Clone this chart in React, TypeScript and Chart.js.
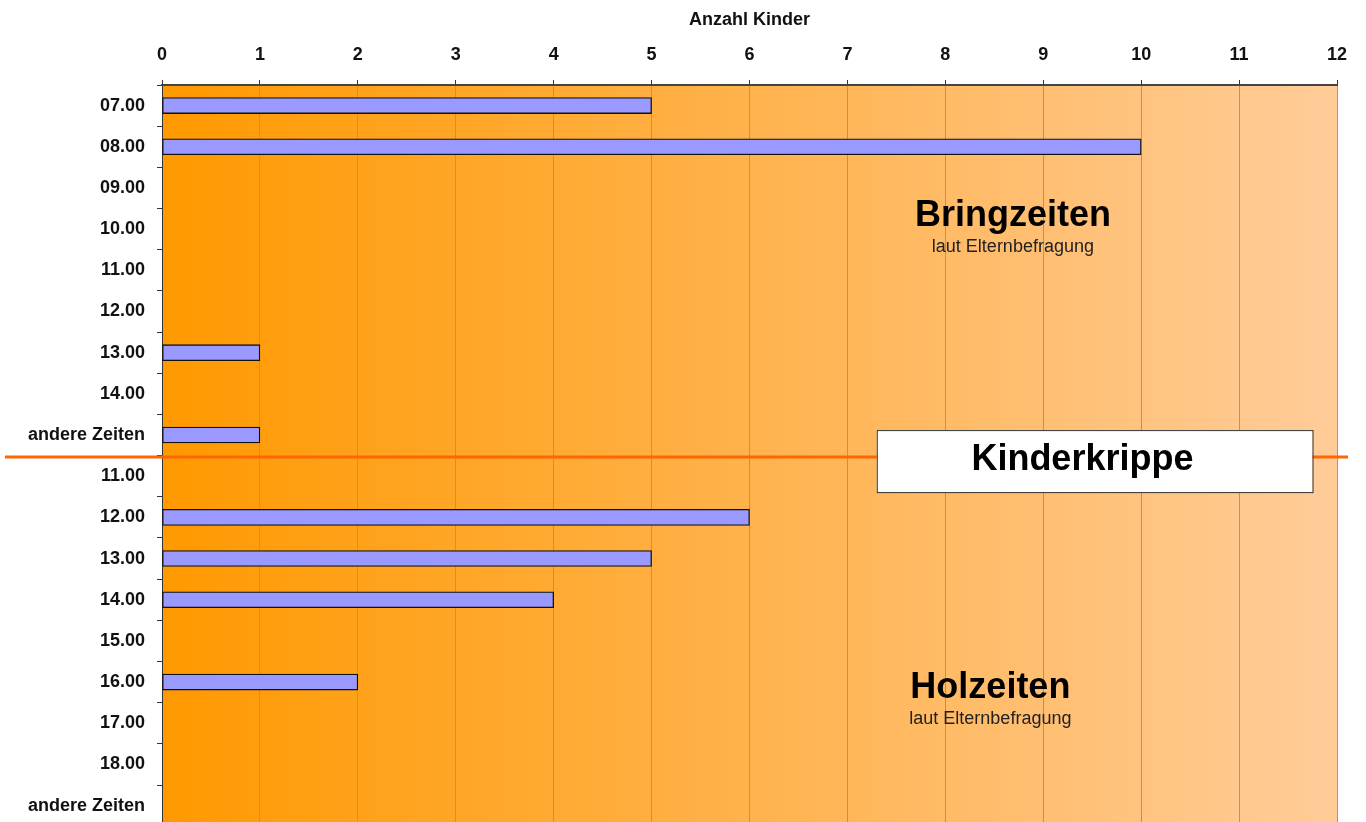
import React, { useEffect, useRef } from "react";
import { Chart, registerables } from "chart.js";

Chart.register(...registerables);

const bringCategories = ["07.00", "08.00", "09.00", "10.00", "11.00", "12.00", "13.00", "14.00", "andere Zeiten"];
const holCategories = ["11.00", "12.00", "13.00", "14.00", "15.00", "16.00", "17.00", "18.00", "andere Zeiten"];
const bringValues = [5, 10, 0, 0, 0, 0, 1, 0, 1];
const holValues = [0, 6, 5, 4, 0, 2, 0, 0, 0];
const xTickValues = [0, 1, 2, 3, 4, 5, 6, 7, 8, 9, 10, 11, 12];

const axisTitle = "Anzahl Kinder";
const bringTitle = "Bringzeiten";
const holTitle = "Holzeiten";
const subTitle = "laut Elternbefragung";
const boxTitle = "Kinderkrippe";

const FONT = "'Liberation Sans', Arial, Helvetica, sans-serif";

const categories = [...bringCategories, ...holCategories];
const values = [...bringValues, ...holValues];

const backgroundPlugin = {
  id: "bgGradient",
  beforeDraw(chart: any) {
    const { ctx, chartArea } = chart;
    if (!chartArea) return;
    const g = ctx.createLinearGradient(chartArea.left, 0, chartArea.right, 0);
    g.addColorStop(0, "#FF9900");
    g.addColorStop(1, "#FFCC99");
    ctx.save();
    ctx.fillStyle = g;
    ctx.fillRect(chartArea.left, chartArea.top, chartArea.right - chartArea.left, chartArea.bottom - chartArea.top);
    ctx.restore();
  },
};

const annotationPlugin = {
  id: "annotations",
  afterDraw(chart: any) {
    const { ctx } = chart;
    const x = chart.scales.x;
    const y = chart.scales.y;
    const sepIndex = bringCategories.length - 0.5;
    const sepY = y.getPixelForValue(sepIndex) + 1.5;

    ctx.save();
    // separator line
    ctx.strokeStyle = "#FF6600";
    ctx.lineWidth = 3;
    ctx.beginPath();
    ctx.moveTo(5, sepY);
    ctx.lineTo(1348, sepY);
    ctx.stroke();

    // Kinderkrippe box
    const bx1 = x.getPixelForValue(7.3);
    const bx2 = x.getPixelForValue(11.75);
    const by1 = sepY - 27;
    const by2 = sepY + 35;
    ctx.fillStyle = "#FFFFFF";
    ctx.fillRect(bx1, by1, bx2 - bx1, by2 - by1);
    ctx.strokeStyle = "#333333";
    ctx.lineWidth = 1;
    ctx.strokeRect(bx1 + 0.5, by1 + 0.5, bx2 - bx1, by2 - by1);

    ctx.fillStyle = "#000000";
    ctx.textAlign = "center";
    ctx.textBaseline = "alphabetic";
    ctx.font = `bold 36px ${FONT}`;
    ctx.fillText(boxTitle, x.getPixelForValue(9.4), sepY + 13);

    // Bringzeiten
    const bX = x.getPixelForValue(8.69);
    ctx.fillText(bringTitle, bX, y.getPixelForValue(2.92));
    ctx.font = `18px ${FONT}`;
    ctx.fillStyle = "#222222";
    ctx.fillText(subTitle, bX, y.getPixelForValue(3.56));

    // Holzeiten
    const hX = x.getPixelForValue(8.46);
    ctx.fillStyle = "#000000";
    ctx.font = `bold 36px ${FONT}`;
    ctx.fillText(holTitle, hX, y.getPixelForValue(14.38));
    ctx.font = `18px ${FONT}`;
    ctx.fillStyle = "#222222";
    ctx.fillText(subTitle, hX, y.getPixelForValue(15.02));
    ctx.restore();
  },
};

export default function App() {
  const canvasRef = useRef<HTMLCanvasElement | null>(null);

  useEffect(() => {
    const canvas = canvasRef.current;
    if (!canvas) return;
    const chart = new Chart(canvas, {
      type: "bar",
      data: {
        labels: categories,
        datasets: [
          {
            data: values.map((v) => (v === 0 ? null : v)),
            backgroundColor: "#9999FF",
            borderColor: "#111111",
            borderWidth: 1.3,
            borderSkipped: false,
            barThickness: 16,
          },
        ],
      },
      options: {
        indexAxis: "y",
        responsive: false,
        animation: false,
        devicePixelRatio: 1,
        layout: { padding: { left: 0, top: 0, right: 29, bottom: 4 } },
        plugins: {
          legend: { display: false },
          tooltip: { enabled: false },
          title: { display: false },
        },
        scales: {
          x: {
            type: "linear",
            position: "top",
            min: 0,
            max: 12,
            afterBuildTicks: (scale: any) => {
              scale.ticks = xTickValues.map((v) => ({ value: v }));
            },
            afterFit: (scale: any) => {
              scale.height = 85;
            },
            ticks: {
              stepSize: 1,
              padding: 14,
              color: "#111111",
              font: { family: FONT, size: 18, weight: "bold" },
              maxRotation: 0,
            },
            grid: {
              color: "#999999",
              lineWidth: 1,
              drawTicks: true,
              tickLength: 5,
              tickColor: "#333333",
            },
            border: { display: true, color: "#444444", width: 2 },
            title: {
              display: true,
              text: axisTitle,
              color: "#111111",
              font: { family: FONT, size: 18, weight: "bold" },
              padding: { top: 9, bottom: 0 },
            },
          },
          y: {
            type: "category",
            afterFit: (scale: any) => {
              scale.width = 162;
            },
            ticks: {
              autoSkip: false,
              padding: 12,
              color: "#111111",
              font: { family: FONT, size: 18, weight: "bold" },
            },
            grid: {
              drawOnChartArea: false,
              drawTicks: true,
              tickLength: 5,
              tickColor: "#333333",
              offset: true,
            },
            border: { display: true, color: "#333333", width: 1 },
          },
        },
      },
      plugins: [backgroundPlugin, annotationPlugin],
    } as any);
    return () => chart.destroy();
  }, []);

  return (
    <div style={{ position: "fixed", left: 0, top: 0, width: 1366, height: 822, overflow: "hidden", background: "#FFFFFF" }}>
      <canvas ref={canvasRef} width={1366} height={849} style={{ display: "block", width: 1366, height: 849 }} />
    </div>
  );
}
